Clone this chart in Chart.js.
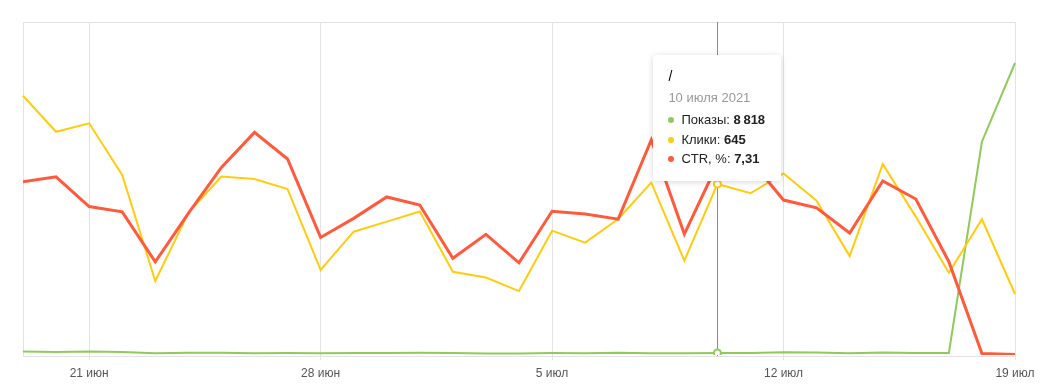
<!DOCTYPE html>
<html><head><meta charset="utf-8">
<script src="https://cdn.jsdelivr.net/npm/chart.js@4.4.0/dist/chart.umd.min.js"></script>
<style>
html,body{margin:0;padding:0;background:#fff;}
#wrap{position:relative;width:1049px;height:389px;overflow:hidden;}
#tt{position:absolute;width:128px;box-sizing:border-box;padding:11px 10px 12px 15px;background:#fff;border-radius:4px;
 box-shadow:0 1px 6px rgba(0,0,0,.16);font-family:"Liberation Sans",Arial,sans-serif;color:#222;pointer-events:none;}
#tt .tt-title{font-size:14px;line-height:20px;color:#000;}
#tt .tt-date{font-size:13px;line-height:24px;color:#999;}
#tt .tt-row{font-size:13px;line-height:19.5px;white-space:nowrap;}
#tt .tt-row i{display:inline-block;width:6px;height:6px;border-radius:50%;margin-right:7px;vertical-align:1px;}
#tt .tt-row b{font-weight:bold;}
</style></head>
<body><div id="wrap"><canvas id="c" width="1049" height="389"></canvas><div id="tt"></div></div>
<script>
const categories = ['19 июня 2021','20 июня 2021','21 июня 2021','22 июня 2021','23 июня 2021','24 июня 2021','25 июня 2021','26 июня 2021','27 июня 2021','28 июня 2021','29 июня 2021','30 июня 2021','1 июля 2021','2 июля 2021','3 июля 2021','4 июля 2021','5 июля 2021','6 июля 2021','7 июля 2021','8 июля 2021','9 июля 2021','10 июля 2021','11 июля 2021','12 июля 2021','13 июля 2021','14 июля 2021','15 июля 2021','16 июля 2021','17 июля 2021','18 июля 2021','19 июля 2021'];
const shows = [14751,12346,15387,12390,7815,9889,9373,7793,8347,7133,8891,8314,9425,8486,6320,6827,8527,7852,9865,7898,7689,8818,8177,11551,10337,7987,10811,8744,8683,913000,1250000];
const clicks = [978,842,874,679,279,536,673,664,626,321,465,503,541,314,292,241,469,424,513,650,356,645,610,685,582,373,720,522,310,512,230];
const ctr = [6.63,6.82,5.68,5.48,3.57,5.42,7.18,8.52,7.50,4.50,5.23,6.05,5.74,3.70,4.62,3.53,5.50,5.40,5.20,8.23,4.63,7.31,7.46,5.93,5.63,4.67,6.66,5.97,3.57,0.06,0.02];
const tickLabels = ['21 июн','28 июн','5 июл','12 июл','19 июл'];
const tickIndex = [2,9,16,23,30];
const seriesNames = ['Показы','Клики','CTR, %'];
const pageTitle = '/';
const activeIndex = 21;

const GREEN = '#8fca5c', YELLOW = '#ffcc11', RED = '#ff5a3c';
const GRID = '#e3e3e3';
Chart.defaults.font.family = '"Liberation Sans", Arial, sans-serif';

const framePlugin = {
  id: 'frame',
  beforeDatasetsDraw(chart) {
    const {ctx, chartArea: a} = chart;
    ctx.save();
    ctx.strokeStyle = GRID; ctx.lineWidth = 1;
    ctx.beginPath();
    ctx.moveTo(a.left, a.top + 0.5); ctx.lineTo(a.right + 1, a.top + 0.5);
    ctx.moveTo(a.left + 0.5, a.top); ctx.lineTo(a.left + 0.5, a.bottom + 2);
    ctx.moveTo(a.left, a.bottom + 1.5); ctx.lineTo(a.right + 1, a.bottom + 1.5);
    ctx.stroke();
    // crosshair
    const x = Math.round(chart.scales.x.getPixelForValue(activeIndex)) + 0.5;
    ctx.strokeStyle = '#8a8a8a';
    ctx.beginPath(); ctx.moveTo(x, a.top); ctx.lineTo(x, a.bottom + 1); ctx.stroke();
    ctx.restore();
  }
};

function ds(label, data, axis, color, width) {
  return {label, data, yAxisID: axis, borderColor: color, backgroundColor: color, borderWidth: width,
    tension: 0, pointRadius: 0, pointHoverRadius: 3.5, pointHoverBorderWidth: 2,
    pointHoverBackgroundColor: '#fff', pointHoverBorderColor: color, fill: false};
}

const chart = new Chart(document.getElementById('c'), {
  type: 'line',
  data: {labels: categories, datasets: [
    ds(seriesNames[2], ctr, 'yR', RED, 3),
    ds(seriesNames[1], clicks, 'yC', YELLOW, 2),
    ds(seriesNames[0], shows, 'yS', GREEN, 2)
  ]},
  options: {
    responsive: false, animation: false, events: [],
    layout: {padding: {left: 23, right: 34, top: 22, bottom: 0}},
    plugins: {legend: {display: false}, tooltip: {enabled: false}},
    scales: {
      x: {
        type: 'category', offset: false,
        border: {display: false},
        grid: {color: c => tickIndex.includes(c.index) ? GRID : 'rgba(0,0,0,0)', tickLength: 5, drawTicks: true},
        ticks: {autoSkip: false, maxRotation: 0, minRotation: 0, padding: 6, color: '#555', font: {size: 12},
          callback: (v, i) => { const k = tickIndex.indexOf(i); return k >= 0 ? tickLabels[k] : ''; }},
        afterFit: s => { s.height = 34; }
      },
      yS: {display: false, min: 0, max: 1425500},
      yC: {display: false, min: 0, max: 1256},
      yR: {display: false, min: 0, max: 12.745}
    }
  },
  plugins: [framePlugin]
});

chart.setActiveElements([0, 1, 2].map(d => ({datasetIndex: d, index: activeIndex})));
chart.update('none');

const fmtInt = n => String(n).replace(/\B(?=(\d{3})+(?!\d))/g, '\u2009');
const fmtDec = n => n.toFixed(2).replace('.', ',');
const tt = document.getElementById('tt');
tt.innerHTML =
  '<div class="tt-title">' + pageTitle + '</div>' +
  '<div class="tt-date">' + categories[activeIndex] + '</div>' +
  '<div class="tt-row"><i style="background:' + GREEN + '"></i>' + seriesNames[0] + ': <b>' + fmtInt(shows[activeIndex]) + '</b></div>' +
  '<div class="tt-row"><i style="background:' + YELLOW + '"></i>' + seriesNames[1] + ': <b>' + fmtInt(clicks[activeIndex]) + '</b></div>' +
  '<div class="tt-row"><i style="background:' + RED + '"></i>' + seriesNames[2] + ': <b>' + fmtDec(ctr[activeIndex]) + '</b></div>';
const px = chart.scales.x.getPixelForValue(activeIndex);
tt.style.left = (px - 64) + 'px';
tt.style.top = (chart.chartArea.top + 33) + 'px';
</script>
</body></html>
